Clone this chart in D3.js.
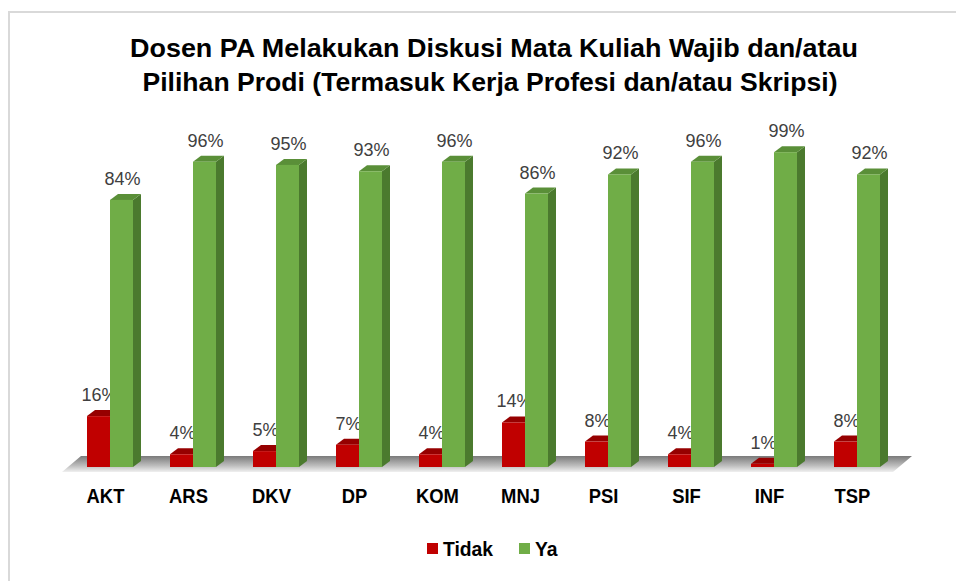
<!DOCTYPE html>
<html>
<head>
<meta charset="utf-8">
<script src="https://cdn.jsdelivr.net/npm/d3@7"></script>
<style>
  body { margin: 0; background: #fff; }
  svg { display: block; }
</style>
</head>
<body>
<svg id="chart" width="956" height="581"></svg>
<script>
var titleLines = [
  "Dosen PA Melakukan Diskusi Mata Kuliah Wajib dan/atau",
  "Pilihan Prodi (Termasuk Kerja Profesi dan/atau Skripsi)"
];
var prodi = ["AKT", "ARS", "DKV", "DP", "KOM", "MNJ", "PSI", "SIF", "INF", "TSP"];
var seriesNames = ["Tidak", "Ya"];
var tidak = [16, 4, 5, 7, 4, 14, 8, 4, 1, 8];
var ya = [84, 96, 95, 93, 96, 86, 92, 96, 99, 92];

var colors = {
  Tidak: { front: "#c00000", top: "#960000", side: "#8a0000" },
  Ya: { front: "#70ad47", top: "#5a8f38", side: "#4b7a2e" }
};

var svg = d3.select("#chart");

// squeeze text horizontally a bit (narrow look of the original font)
var squeeze = function (sel, k) {
  sel.each(function () {
    var len = this.getComputedTextLength();
    d3.select(this)
      .attr("textLength", len * k)
      .attr("lengthAdjust", "spacingAndGlyphs");
  });
};

// frame
svg.append("rect")
  .attr("x", 9).attr("y", 12)
  .attr("width", 960).attr("height", 600)
  .attr("fill", "none")
  .attr("stroke", "#d9d9d9")
  .attr("stroke-width", 2);

// title
svg.selectAll(".title")
  .data(titleLines)
  .enter()
  .append("text")
  .attr("class", "title")
  .attr("x", function (d, i) { return i === 0 ? 494 : 490; })
  .attr("y", function (d, i) { return 57 + i * 34; })
  .attr("text-anchor", "middle")
  .attr("textLength", function (d, i) { return i === 0 ? 728 : 695; })
  .attr("lengthAdjust", "spacingAndGlyphs")
  .style("font-family", "'Liberation Sans', Arial, sans-serif")
  .style("font-weight", "bold")
  .style("font-size", "26px")
  .style("fill", "#000")
  .text(function (d) { return d; });

var x0 = d3.scaleBand().domain(prodi).range([63, 893]);
var x1 = d3.scaleBand().domain(seriesNames).range([24, 70]);
var y = d3.scaleLinear().domain([0, 100]).range([467, 149]);

var dx = 8, dy = 6;

// floor
var defs = svg.append("defs");
var grad = defs.append("linearGradient")
  .attr("id", "floorGrad")
  .attr("x1", 0).attr("y1", 0).attr("x2", 0).attr("y2", 1);
grad.append("stop").attr("offset", "0%").attr("stop-color", "#7a7a7a");
grad.append("stop").attr("offset", "60%").attr("stop-color", "#bdbdbd");
grad.append("stop").attr("offset", "100%").attr("stop-color", "#f0f0f0");

var fx0 = x0.range()[0], fx1 = x0.range()[1];
svg.append("path")
  .attr("d", "M" + (fx0 - 1) + "," + 472 + " L" + (fx0 + 18) + "," + 456 +
    " L" + (fx1 + 19) + "," + 456 + " L" + fx1 + "," + 472 + " Z")
  .attr("fill", "url(#floorGrad)");

var rows = prodi.map(function (p, i) {
  return { prodi: p, values: [
    { key: "Tidak", value: tidak[i] },
    { key: "Ya", value: ya[i] }
  ] };
});

var groups = svg.selectAll(".grp")
  .data(rows)
  .enter()
  .append("g")
  .attr("class", "grp")
  .attr("transform", function (d) { return "translate(" + x0(d.prodi) + ",0)"; });

var bars = groups.selectAll(".bar")
  .data(function (d) { return d.values; })
  .enter()
  .append("g")
  .attr("class", "bar");

// side face
bars.append("path")
  .attr("d", function (d) {
    var xl = x1(d.key), w = x1.bandwidth(), yt = y(d.value), yb = y(0);
    return "M" + (xl + w) + "," + yt + " L" + (xl + w + dx) + "," + (yt - dy) +
      " L" + (xl + w + dx) + "," + (yb - dy) + " L" + (xl + w) + "," + yb + " Z";
  })
  .attr("fill", function (d) { return colors[d.key].side; });

// top face
bars.append("path")
  .attr("d", function (d) {
    var xl = x1(d.key), w = x1.bandwidth(), yt = y(d.value);
    return "M" + xl + "," + yt + " L" + (xl + dx) + "," + (yt - dy) +
      " L" + (xl + w + dx) + "," + (yt - dy) + " L" + (xl + w) + "," + yt + " Z";
  })
  .attr("fill", function (d) { return colors[d.key].top; });

// front face
bars.append("rect")
  .attr("x", function (d) { return x1(d.key); })
  .attr("y", function (d) { return y(d.value); })
  .attr("width", x1.bandwidth())
  .attr("height", function (d) { return y(0) - y(d.value); })
  .attr("fill", function (d) { return colors[d.key].front; });

// value labels
bars.append("text")
  .attr("x", function (d) { return x1(d.key) + x1.bandwidth() / 2 + 1; })
  .attr("y", function (d) { return y(d.value) - 15; })
  .attr("text-anchor", "middle")
  .style("font-family", "'Liberation Sans', Arial, sans-serif")
  .style("font-size", "18px")
  .style("fill", "#404040")
  .text(function (d) { return d.value + "%"; });

// category axis labels
svg.append("g")
  .selectAll("text")
  .data(prodi)
  .enter()
  .append("text")
  .attr("x", function (d) { return x0(d) + x0.bandwidth() / 2 + 1; })
  .attr("y", 503)
  .attr("text-anchor", "middle")
  .style("font-family", "'Liberation Sans', Arial, sans-serif")
  .style("font-weight", "bold")
  .style("font-size", "20px")
  .style("fill", "#000")
  .text(function (d) { return d; })
  .call(squeeze, 0.92);

// legend
var legendPos = [427, 519];
var legend = svg.selectAll(".legend")
  .data(seriesNames)
  .enter()
  .append("g")
  .attr("class", "legend")
  .attr("transform", function (d, i) { return "translate(" + legendPos[i] + ",543)"; });

legend.append("rect")
  .attr("width", 11).attr("height", 11)
  .attr("fill", function (d) { return colors[d].front; });

legend.append("text")
  .attr("x", 16)
  .attr("y", 13)
  .style("font-family", "'Liberation Sans', Arial, sans-serif")
  .style("font-weight", "bold")
  .style("font-size", "21px")
  .style("fill", "#000")
  .text(function (d) { return d; })
  .call(squeeze, 0.92);
</script>
</body>
</html>
